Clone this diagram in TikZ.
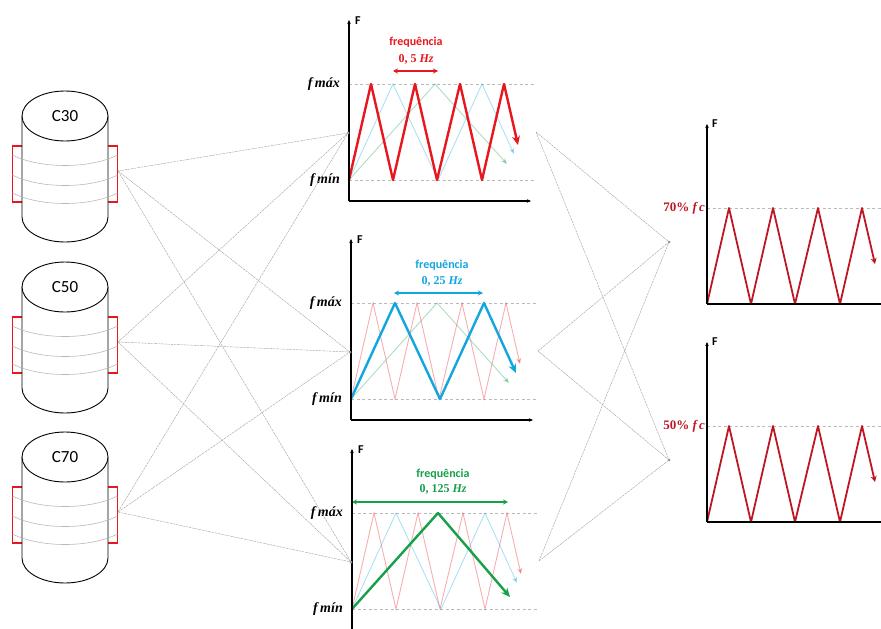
\documentclass[tikz,border=0pt]{standalone}
\usepackage{fontspec}
\setmainfont{Liberation Serif}
\setsansfont{Carlito}
\usepackage{xcolor}
\usetikzlibrary{arrows.meta}

\definecolor{cred}{HTML}{E8161E}
\definecolor{cblue}{HTML}{12A6DE}
\definecolor{cgreen}{HTML}{16A04A}
\definecolor{dred}{HTML}{BE1622}

\begin{document}
\begin{tikzpicture}[x=1pt,y=-1pt]
  \tikzset{link/.style = {gray!75, line width=0.4pt, dash pattern=on 2.5pt off 0.8pt}}
  \tikzset{axis/.style = {line width=1.4pt, -{Stealth[length=4pt,width=3.5pt]}}}
  \tikzset{level/.style = {gray!55, line width=0.6pt, dash pattern=on 3pt off 2.5pt}}
  \tikzset{wave/.style = {line width=2.4pt, line join=round, -{Stealth[length=9pt,width=8pt]}}}
  \tikzset{ghost/.style = {line width=0.9pt, opacity=0.35, -{Stealth[length=6pt,width=5pt]}}}
  \tikzset{period/.style = {line width=1.6pt, {Stealth[length=5pt,width=5pt]}-{Stealth[length=5pt,width=5pt]}}}
  \tikzset{flabel/.style = {anchor=east, inner sep=1pt, font=\fontsize{14}{16}\selectfont\bfseries\itshape}}
  \tikzset{axlabel/.style = {anchor=west, inner sep=1pt, font=\sffamily\bfseries\fontsize{12}{13}\selectfont}}
  \tikzset{freq/.style = {font=\sffamily\bfseries\fontsize{12}{14}\selectfont}}
  \tikzset{hz/.style = {font=\bfseries\fontsize{12}{14}\selectfont}}
  \tikzset{dot/.style = {fill=gray!80, circle, inner sep=0pt, minimum size=3pt}}

  \useasboundingbox (0,0) rectangle (881,629);

  % specimens
  \foreach \n/\y in {30/116, 50/287, 70/457}
  {
    \draw[cred, line width=1.3pt] (12.5,\y+30) rectangle (117.5,\y+86);
    \filldraw[fill=white, line width=0.9pt] (22,\y) -- (22,\y+101)
      arc[start angle=180, end angle=0, x radius=43, y radius=25] -- (108,\y);
    \filldraw[fill=white, line width=0.9pt] (65,\y) ellipse [x radius=43, y radius=25];
    \foreach \b in {39,59,77}
      \draw[gray!55, line width=0.6pt] (12.5,\y+\b) .. controls (40,\y+\b+14) and (90,\y+\b+14) .. (117.5,\y+\b);
    \node[font=\sffamily\fontsize{17}{20}\selectfont] (c\n) at (65,\y) {C\n};
    \coordinate (s\n) at (118,\y+55);
  }

  % force histories: levels and labels
  \foreach \n/\ox/\oy in {1/349/180, 2/351/399, 3/352/609}
  {
    \begin{scope}[shift={(\ox,\oy)}]
      \draw[level] (0,-96) -- (186,-96);
      \draw[level] (0,0) -- (186,0);
      \node[flabel] (fmax\n) at (-8,-96) {f\,máx};
      \node[flabel] (fmin\n) at (-8,0) {f\,mín};
      \coordinate (in\n) at (-1,-47);
      \coordinate (out\n) at (187,-48);
    \end{scope}
  }

  % 0.5 Hz
  \begin{scope}[shift={(349,180)}]
    \draw[ghost, cblue] (0,0) -- (44,-96) -- (89,0) -- (133,-96) -- (165,-26);
    \draw[ghost, cgreen] (0,0) -- (86,-96) -- (158,-16);
    \draw[wave, cred] (0,0) \foreach \p in {22,66,111} {-- (\p,-96) -- (\p+22,0)} -- (155,-96) -- (169,-35);
    \draw[period, cred] (44,-109) -- (89,-109);
    \node[freq, cred] (fq1) at (67,-138) {frequência};
    \node[hz, cred] (hz1) at (67,-121) {0,\ 5\ \textit{Hz}};
  \end{scope}

  % 0.25 Hz
  \begin{scope}[shift={(351,399)}]
    \draw[ghost, cred] (0,0) \foreach \p in {22,66,111} {-- (\p,-96) -- (\p+22,0)} -- (155,-96) -- (169,-35);
    \draw[ghost, cgreen] (0,0) -- (86,-96) -- (158,-16);
    \draw[wave, cblue] (0,0) -- (44,-96) -- (89,0) -- (133,-96) -- (165,-26);
    \draw[period, cblue] (43,-106) -- (132,-106);
    \node[freq, cblue] (fq2) at (91,-134) {frequência};
    \node[hz, cblue] (hz2) at (91,-118) {0,\ 25\ \textit{Hz}};
  \end{scope}

  % 0.125 Hz
  \begin{scope}[shift={(352,609)}]
    \draw[ghost, cred] (0,0) \foreach \p in {22,66,111} {-- (\p,-96) -- (\p+22,0)} -- (155,-96) -- (169,-35);
    \draw[ghost, cblue] (0,0) -- (44,-96) -- (89,0) -- (133,-96) -- (165,-26);
    \draw[wave, cgreen] (0,0) -- (86,-96) -- (158,-12);
    \draw[period, cgreen] (0,-107) -- (156,-107);
    \node[freq, cgreen] (fq3) at (91,-135) {frequência};
    \node[hz, cgreen] (hz3) at (91,-120) {0,\ 125\ \textit{Hz}};
  \end{scope}

  % axes of the histories
  \foreach \n/\ox/\oy in {1/349/180, 2/351/399, 3/352/609}
  {
    \begin{scope}[shift={(\ox,\oy)}]
      \draw[axis] (0,21) -- (0,-160);
      \node[axlabel] (F\n) at (5,-159) {F};
    \end{scope}
  }
  \foreach \ox/\oy in {349/180, 351/399}
    \draw[axis] (\ox,\oy+21) -- (\ox+182,\oy+21);

  % reduced loading
  \foreach \n/\oy in {70/304, 50/522}
  {
    \begin{scope}[shift={(707,\oy)}]
      \draw[level] (0,-96) -- (174,-96);
      \draw[wave, dred, line width=1.8pt, -{Stealth[length=6pt,width=6pt]}] (0,0)
        \foreach \p in {22,66,111} {-- (\p,-96) -- (\p+22,0)} -- (155,-96) -- (168,-40);
      \draw[axis] (0,0) -- (0,-180);
      \draw[line width=1.4pt] (0,0) -- (174,0);
      \node[axlabel] (F\n) at (4,-180) {F};
      \node[anchor=east, inner sep=1pt, dred, font=\bfseries\fontsize{13}{15}\selectfont] (fc\n) at (-1,-96) {\n\% \textit{f\,c}};
      \coordinate (t\n) at (-38,-62);
    \end{scope}
  }

  % links
  \foreach \c in {30,50,70}
    \foreach \g in {1,2,3}
      \draw[link] (s\c) -- (in\g);
  \foreach \g in {1,2,3}
    \foreach \t in {70,50}
      \draw[link] (out\g) -- (t\t);
  \foreach \g in {1,2,3} {\node[dot] at (in\g) {};}
  \foreach \t in {70,50} {\node[dot] at (t\t) {};}

\end{tikzpicture}
\end{document}
